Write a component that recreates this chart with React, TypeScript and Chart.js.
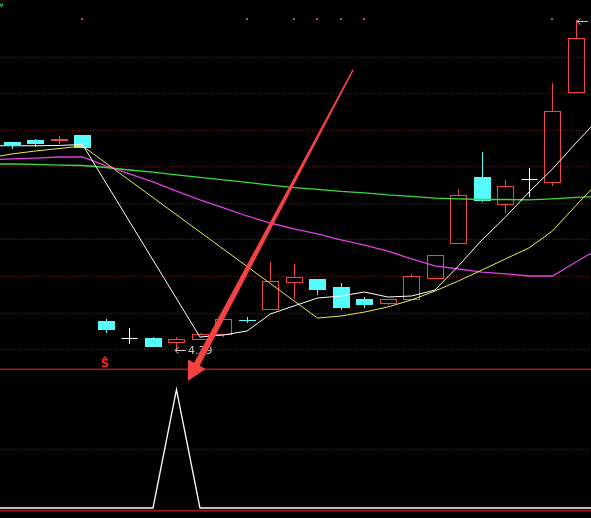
import { useEffect, useRef } from "react";
import { Chart, registerables } from "chart.js";

Chart.register(...registerables);

const W = 591;
const H = 518;

// Daily bars, index 0 = leftmost visible session
const OPEN = [5.818, 5.832, 5.83, 5.866, 4.592, 4.475, 4.475, 4.448, 4.468, 4.503, 4.6, 4.674, 4.859, 4.88, 4.825, 4.743, 4.715, 4.743, 4.886, 5.126, 5.578, 5.393, 5.565, 5.544, 6.16];
const HIGH = [5.82, 5.839, 5.859, 5.866, 4.605, 4.544, 4.482, 4.482, 4.51, 4.606, 4.619, 4.996, 4.982, 4.88, 4.852, 4.756, 4.743, 4.914, 5.044, 5.496, 5.749, 5.558, 5.64, 6.222, 6.654];
const LOW = [5.77, 5.784, 5.804, 5.777, 4.51, 4.434, 4.414, 4.39, 4.462, 4.48, 4.578, 4.674, 4.743, 4.77, 4.667, 4.681, 4.701, 4.743, 4.886, 5.126, 5.407, 5.332, 5.441, 5.517, 6.16];
const CLOSE = [5.797, 5.804, 5.835, 5.777, 4.53, 4.475, 4.414, 4.468, 4.503, 4.606, 4.598, 4.866, 4.893, 4.804, 4.681, 4.701, 4.743, 4.9, 5.044, 5.455, 5.414, 5.517, 5.565, 6.03, 6.53];

// Moving averages: one extra session on each side (index -1 and 25, just off screen)
const MA5 = [5.792, 5.792, 5.792, 5.794, 5.801, null, null, null, null, 4.482, 4.496, 4.523, 4.64, 4.695, 4.749, 4.763, 4.79, 4.756, 4.763, 4.804, 4.969, 5.147, 5.304, 5.475, 5.633, 5.811, 5.982];
const MA10 = [5.708, 5.736, 5.756, 5.773, 5.791, null, null, null, null, null, null, null, null, null, 4.612, 4.626, 4.653, 4.688, 4.736, 4.797, 4.866, 4.941, 5.017, 5.092, 5.208, 5.383, 5.552];
const MA20 = [5.695, 5.702, 5.708, 5.715, 5.715, 5.654, 5.599, 5.544, 5.482, 5.421, 5.366, 5.311, 5.263, 5.222, 5.188, 5.147, 5.112, 5.071, 5.017, 4.969, 4.948, 4.927, 4.914, 4.9, 4.9, 4.996, 5.09];
const MA60 = [5.667, 5.667, 5.664, 5.66, 5.657, 5.643, 5.626, 5.612, 5.592, 5.575, 5.558, 5.541, 5.523, 5.506, 5.493, 5.479, 5.469, 5.455, 5.445, 5.434, 5.428, 5.424, 5.424, 5.421, 5.428, 5.438, 5.445];

// Lower indicator (same index range as the averages)
const SIGNAL = [0, 0, 0, 0, 0, 0, 0, 0, 1, 0, 0, 0, 0, 0, 0, 0, 0, 0, 0, 0, 0, 0, 0, 0, 0, 0, 0];

// Sessions flagged with a dot along the top, and the sell mark
const DOT_DAYS = [3, 10, 12, 13, 14, 15, 23];
const SELL_DAYS = [4];

// Dotted guide levels for each pane
const PRICE_LEVELS = [4.4, 4.65, 4.9, 5.15, 5.4, 5.65, 5.9, 6.15, 6.4];
const SIGNAL_LEVELS = [0.5];

const CYAN = "#54fcfc";
const RED = "#ee4646";
const GRID = "#7e1616";
const PANE_LINE = "#a01c1c";

// Price pane: 36.5px per 0.25 step, 4.40 at y=349
const PX_STEP = 0.25 / 36.5;
const PRICE_MAX = 4.4 + 349 * PX_STEP;
const PRICE_MIN = 4.4 - (H - 349) * PX_STEP;
// Indicator pane: 0 at y=508, 1 at y=389.5
const SIG_PPU = 118.5;
const SIG_MAX = 508 / SIG_PPU;
const SIG_MIN = -(H - 508) / SIG_PPU;

const PANE_SPLIT_Y = 369;
const PANE_BOTTOM_Y = 510;

const toPoints = (vals: (number | null)[]) => vals.map((v, k) => ({ x: k - 1, y: v }));

function drawArrow(ctx: CanvasRenderingContext2D, x0: number, y0: number, x1: number, y1: number) {
  const dx = x1 - x0;
  const dy = y1 - y0;
  const len = Math.hypot(dx, dy);
  const ux = dx / len;
  const uy = dy / len;
  const px = -uy;
  const py = ux;
  const headLen = 19;
  const headHalf = 10;
  const w0 = 0.8;
  const w1 = 3.2;
  const bx = x1 - ux * headLen;
  const by = y1 - uy * headLen;
  ctx.beginPath();
  ctx.moveTo(x0 + px * w0, y0 + py * w0);
  ctx.lineTo(bx + px * w1, by + py * w1);
  ctx.lineTo(bx + px * headHalf, by + py * headHalf);
  ctx.lineTo(x1, y1);
  ctx.lineTo(bx - px * headHalf, by - py * headHalf);
  ctx.lineTo(bx - px * w1, by - py * w1);
  ctx.lineTo(x0 - px * w0, y0 - py * w0);
  ctx.closePath();
  ctx.fill();
}

// small left-pointing arrow followed by a price, anchored at (ax, ay)
function priceTag(ctx: CanvasRenderingContext2D, ax: number, ay: number, value: number) {
  const yy = Math.round(ay) + 0.5;
  ctx.beginPath();
  ctx.moveTo(ax, yy);
  ctx.lineTo(ax + 11, yy);
  ctx.moveTo(ax + 3.5, yy - 3);
  ctx.lineTo(ax, yy);
  ctx.lineTo(ax + 3.5, yy + 3);
  ctx.stroke();
  ctx.fillText(value.toFixed(2), ax + 13, yy + 0.5);
}

const stockPlugin = {
  id: "stockPanes",
  beforeDraw(chart: any) {
    const { ctx, scales } = chart;
    const y = scales.y;
    const y2 = scales.y2;
    ctx.save();
    ctx.fillStyle = "#000";
    ctx.fillRect(0, 0, W, H);
    ctx.strokeStyle = GRID;
    ctx.lineWidth = 1;
    ctx.setLineDash([1, 2]);
    const hline = (py: number) => {
      const yy = Math.round(py) + 0.5;
      ctx.beginPath();
      ctx.moveTo(0, yy);
      ctx.lineTo(W, yy);
      ctx.stroke();
    };
    PRICE_LEVELS.forEach((v) => hline(y.getPixelForValue(v)));
    SIGNAL_LEVELS.forEach((v) => hline(y2.getPixelForValue(v)));
    ctx.setLineDash([]);
    ctx.fillStyle = PANE_LINE;
    ctx.fillRect(0, PANE_SPLIT_Y - 0.5, W, 1.5);
    ctx.fillRect(0, PANE_BOTTOM_Y, W, 1.5);
    ctx.restore();
  },
  beforeDatasetsDraw(chart: any) {
    const { ctx, scales } = chart;
    const x = scales.x;
    const y = scales.y;
    const step = x.getPixelForValue(1) - x.getPixelForValue(0);
    const half = Math.round(step * 0.35);
    ctx.save();
    ctx.lineWidth = 1;
    OPEN.forEach((o, i) => {
      const c = CLOSE[i];
      const cx = Math.round(x.getPixelForValue(i)) + 0.5;
      const yh = y.getPixelForValue(HIGH[i]);
      const yl = y.getPixelForValue(LOW[i]);
      const yo = y.getPixelForValue(o);
      const yc = y.getPixelForValue(c);
      const top = Math.round(Math.min(yo, yc));
      const bot = Math.round(Math.max(yo, yc));
      const color = c > o ? RED : c < o ? CYAN : "#ffffff";
      ctx.strokeStyle = color;
      ctx.fillStyle = color;
      ctx.beginPath();
      ctx.moveTo(cx, Math.round(yh));
      ctx.lineTo(cx, top);
      ctx.moveTo(cx, bot);
      ctx.lineTo(cx, Math.round(yl));
      ctx.stroke();
      if (c > o) {
        ctx.strokeRect(cx - half, top + 0.5, half * 2, Math.max(bot - top, 1));
      } else if (c < o) {
        ctx.fillRect(cx - half - 0.5, top, half * 2 + 1, Math.max(bot - top, 1));
      } else {
        ctx.beginPath();
        ctx.moveTo(cx - half, top + 0.5);
        ctx.lineTo(cx + half, top + 0.5);
        ctx.stroke();
      }
    });
    ctx.restore();
  },
  afterDatasetsDraw(chart: any) {
    const { ctx, scales } = chart;
    const x = scales.x;
    const y = scales.y;
    ctx.save();

    // flag dots along the top
    ctx.fillStyle = "#b83cb8";
    DOT_DAYS.forEach((d) => {
      const px = Math.round(x.getPixelForValue(d));
      ctx.fillRect(px - 1, 18, 2, 2);
    });

    // lowest low / highest high markers
    ctx.font = '11px "DejaVu Sans", sans-serif';
    ctx.textBaseline = "middle";
    ctx.textAlign = "left";
    ctx.fillStyle = "#c4c4c4";
    ctx.strokeStyle = "#c4c4c4";
    ctx.lineWidth = 1;
    let lo = 0;
    let hi = 0;
    LOW.forEach((v, i) => { if (v < LOW[lo]) lo = i; });
    HIGH.forEach((v, i) => { if (v > HIGH[hi]) hi = i; });
    priceTag(ctx, Math.round(x.getPixelForValue(lo)) - 1, y.getPixelForValue(LOW[lo]), LOW[lo]);
    priceTag(ctx, Math.round(x.getPixelForValue(hi)) + 1, y.getPixelForValue(HIGH[hi]) + 1, HIGH[hi]);

    // sell marks just above the pane divider
    ctx.fillStyle = "#ff2424";
    ctx.strokeStyle = "#ff2424";
    ctx.lineWidth = 1.2;
    ctx.font = 'bold 11px "DejaVu Sans", sans-serif';
    ctx.textAlign = "center";
    SELL_DAYS.forEach((d) => {
      const px = Math.round(x.getPixelForValue(d)) - 1;
      ctx.fillText("S", px, 364);
      ctx.beginPath();
      ctx.moveTo(px - 2.5, 359.5);
      ctx.lineTo(px, 357);
      ctx.lineTo(px + 2.5, 359.5);
      ctx.stroke();
    });

    // corner marker
    ctx.strokeStyle = "#30c030";
    ctx.lineWidth = 1.2;
    ctx.beginPath();
    ctx.moveTo(0, 3.5);
    ctx.lineTo(1.5, 6.5);
    ctx.lineTo(3, 3.5);
    ctx.stroke();

    // callout arrow pointing at the indicator spike
    ctx.fillStyle = "#f44242";
    drawArrow(ctx, 353, 70, 188, 381);
    ctx.restore();
  },
};

export default function App() {
  const canvasRef = useRef<HTMLCanvasElement>(null);

  useEffect(() => {
    const canvas = canvasRef.current;
    if (!canvas) return;
    const lineDs = (label: string, vals: (number | null)[], color: string, width: number, axis = "y") => ({
      label,
      data: toPoints(vals),
      borderColor: color,
      borderWidth: width,
      pointRadius: 0,
      tension: 0,
      spanGaps: true,
      yAxisID: axis,
    });
    const chart = new Chart(canvas, {
      type: "line",
      data: {
        datasets: [
          lineDs("MA5", MA5, "#ffffff", 1),
          lineDs("MA10", MA10, "#ecec50", 1),
          lineDs("MA20", MA20, "#e040e0", 1.3),
          lineDs("MA60", MA60, "#3cdc3c", 1.3),
          lineDs("SIGNAL", SIGNAL, "#ffffff", 1.3, "y2"),
        ] as any,
      },
      options: {
        animation: false,
        responsive: false,
        devicePixelRatio: 1,
        events: [],
        layout: { padding: 0 },
        scales: {
          x: { type: "linear", min: -0.51, max: 24.64, display: false },
          y: { min: PRICE_MIN, max: PRICE_MAX, display: false },
          y2: { min: SIG_MIN, max: SIG_MAX, display: false },
        },
        plugins: {
          legend: { display: false },
          tooltip: { enabled: false },
        },
      },
      plugins: [stockPlugin],
    } as any);
    return () => chart.destroy();
  }, []);

  return (
    <div style={{ position: "fixed", left: 0, top: 0, width: W, height: H, background: "#000" }}>
      <canvas ref={canvasRef} width={W} height={H} style={{ display: "block" }} />
    </div>
  );
}
